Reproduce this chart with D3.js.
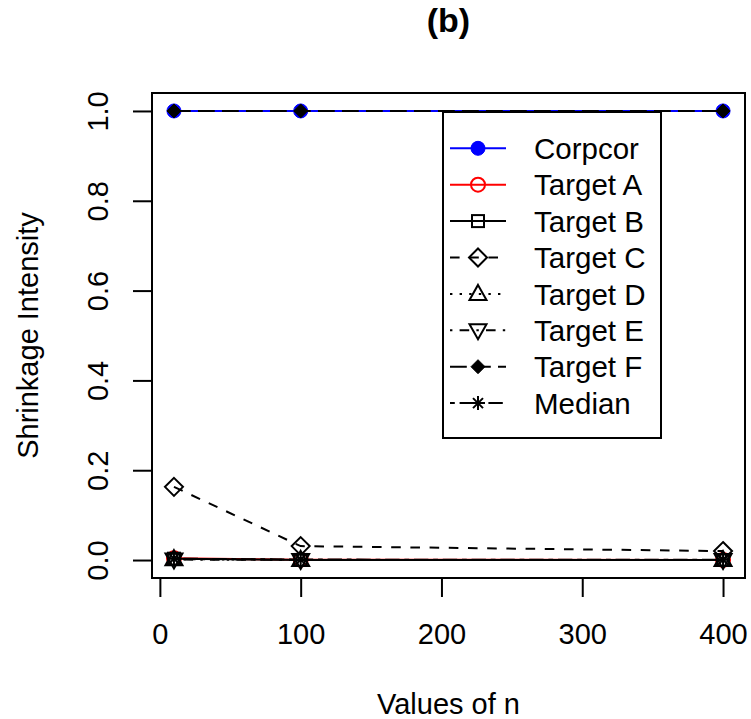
<!DOCTYPE html>
<html><head><meta charset="utf-8">
<script src="https://cdn.jsdelivr.net/npm/d3@7"></script>
<style>body{margin:0;background:#fff}svg{display:block}text{font-family:"Liberation Sans",Arial,Helvetica,sans-serif}</style>
</head><body>
<svg id="c" width="751" height="719"></svg>
<script>
const nValues = [10, 100, 400];
const corpcor = [1, 1, 1];
const targetA = [0.004, 0.0008, 0.0003];
const targetB = [0.003, 0.0002, 0.0001];
const targetC = [0.163, 0.031, 0.02];
const targetD = [0.002, 0.0003, 0.0001];
const targetE = [0.001, 0.0002, 0.0001];
const targetF = [1, 1, 1];
const median = [0.003, 0.001, 0.0005];
const seriesNames = ["Corpcor","Target A","Target B","Target C","Target D","Target E","Target F","Median"];
const xTicks = [0, 100, 200, 300, 400];
const yTicks = [0, 0.2, 0.4, 0.6, 0.8, 1.0];
const titleText = "(b)", xLabel = "Values of n", yLabel = "Shrinkage Intensity";

const seriesValues = [corpcor, targetA, targetB, targetC, targetD, targetE, targetF, median];
const colors = ["#0000ff","#ff0000","#000","#000","#000","#000","#000","#000"];
const dashes = [null, null, null, "9.6,9.6", "2.4,7.2", "2.4,7.2,9.6,7.2", "16.8,7.2", "4.8,4.8,14.4,4.8"];
const shapes = ["fcircle","ocircle","square","diamond","triUp","triDown","fdiamond","star"];

const svg = d3.select("#c");
const L = 152, R = 745, T = 93, B = 578;
const x = d3.scaleLinear().domain([-5.6, 415.6]).range([L, R]);
const y = d3.scaleLinear().domain([-0.04, 1.04]).range([B, T]);
const FS = 29, LW = 2;

function symbol(g, type, cx, cy, col) {
  const s = g.append("g").attr("transform", `translate(${cx},${cy})`);
  if (type === "fcircle") s.append("circle").attr("r", 7).attr("fill", col).attr("stroke", col).attr("stroke-width", 1);
  else if (type === "ocircle") s.append("circle").attr("r", 7).attr("fill", "none").attr("stroke", col).attr("stroke-width", LW);
  else if (type === "square") s.append("rect").attr("x", -6).attr("y", -6).attr("width", 12).attr("height", 12).attr("fill", "none").attr("stroke", col).attr("stroke-width", LW);
  else if (type === "diamond") s.append("path").attr("d", "M0,-9L9,0L0,9L-9,0Z").attr("fill", "none").attr("stroke", col).attr("stroke-width", LW);
  else if (type === "fdiamond") s.append("path").attr("d", "M0,-7L7,0L0,7L-7,0Z").attr("fill", col).attr("stroke", col).attr("stroke-width", 1);
  else if (type === "triUp") s.append("path").attr("d", "M0,-9L8.5,6L-8.5,6Z").attr("fill", "none").attr("stroke", col).attr("stroke-width", LW);
  else if (type === "triDown") s.append("path").attr("d", "M0,9L8.5,-6L-8.5,-6Z").attr("fill", "none").attr("stroke", col).attr("stroke-width", LW);
  else if (type === "star") s.append("path").attr("d", "M-7,0H7M0,-7V7M-5,-5L5,5M-5,5L5,-5").attr("fill", "none").attr("stroke", col).attr("stroke-width", LW);
}

// series
const line = d3.line().x(d => x(d[0])).y(d => y(d[1]));
seriesValues.forEach((vals, i) => {
  const pts = nValues.map((n, j) => [n, vals[j]]);
  svg.append("path").attr("d", line(pts)).attr("fill", "none").attr("stroke", colors[i])
    .attr("stroke-width", LW).attr("stroke-dasharray", dashes[i]);
  pts.forEach(p => symbol(svg, shapes[i], x(p[0]), y(p[1]), colors[i]));
});

// box
svg.append("rect").attr("x", L).attr("y", T).attr("width", R - L).attr("height", B - T)
  .attr("fill", "none").attr("stroke", "#000").attr("stroke-width", LW);

// axes
const xAxis = d3.axisBottom(x).tickValues(xTicks).tickSize(19).tickPadding(26).tickFormat(d3.format("d"));
const gx = svg.append("g").attr("transform", `translate(0,${B})`).call(xAxis);
gx.select(".domain").attr("d", `M${x(xTicks[0])},0H${x(xTicks[xTicks.length-1])}`).attr("stroke-width", LW);
gx.selectAll(".tick line").attr("stroke-width", LW);
gx.selectAll("text").attr("font-size", FS).attr("fill", "#000").attr("dy", "0.71em");

const yAxis = d3.axisLeft(y).tickValues(yTicks).tickSize(19).tickFormat(d3.format(".1f"));
const gy = svg.append("g").attr("transform", `translate(${L},0)`).call(yAxis);
gy.select(".domain").attr("d", `M0,${y(yTicks[0])}V${y(yTicks[yTicks.length-1])}`).attr("stroke-width", LW);
gy.selectAll(".tick line").attr("stroke-width", LW);
gy.selectAll("text").attr("font-size", FS).attr("fill", "#000")
  .attr("x", null).attr("dy", null).attr("text-anchor", "middle")
  .attr("transform", "translate(-44,0) rotate(-90)");

// labels
svg.append("text").attr("x", (L + R) / 2).attr("y", 32).attr("text-anchor", "middle")
  .attr("font-size", 34).attr("font-weight", "bold").text(titleText);
svg.append("text").attr("x", (L + R) / 2).attr("y", 714).attr("text-anchor", "middle")
  .attr("font-size", FS).text(xLabel);
svg.append("text").attr("transform", `translate(38,${(T + B) / 2}) rotate(-90)`).attr("text-anchor", "middle")
  .attr("font-size", FS).text(yLabel);

// legend
const lg = svg.append("g");
lg.append("rect").attr("x", 443).attr("y", 112).attr("width", 218).attr("height", 326)
  .attr("fill", "#fff").attr("stroke", "#000").attr("stroke-width", LW);
seriesNames.forEach((name, i) => {
  const yy = 148.3 + i * 36.4;
  lg.append("line").attr("x1", 450).attr("x2", 506).attr("y1", yy).attr("y2", yy)
    .attr("stroke", colors[i]).attr("stroke-width", LW).attr("stroke-dasharray", dashes[i]);
  symbol(lg, shapes[i], 478, yy, colors[i]);
  lg.append("text").attr("x", 534).attr("y", yy).attr("dy", "0.36em").attr("font-size", FS + 0.5).text(name);
});
</script>
</body></html>
